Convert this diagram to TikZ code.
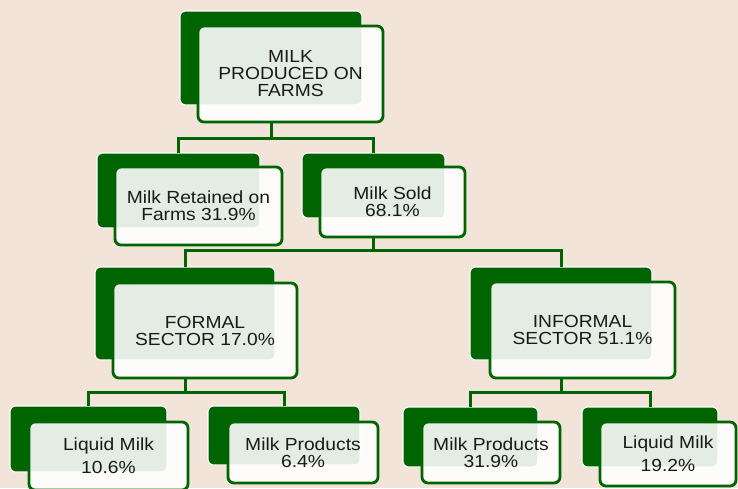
\documentclass[tikz,border=0pt]{standalone}
\usepackage{fontspec}
\setmainfont{Liberation Sans}[FakeStretch=1.1]
\definecolor{dkgreen}{HTML}{006400}
\definecolor{bgbeige}{HTML}{F2E4D8}
\definecolor{txtgray}{HTML}{1A1A1A}
\begin{document}
\begin{tikzpicture}[x=1pt,y=-1pt,
  backbox/.style={fill=dkgreen, draw=white, line width=1.2pt, rounded corners=5pt, inner sep=0pt, outer sep=0pt},
  frontbox/.style={fill=white, fill opacity=0.89, text opacity=1, draw=dkgreen, draw opacity=1, line width=2.8pt, rounded corners=6pt, inner sep=0pt, outer sep=0pt, align=center, text=txtgray, font=\fontsize{17.5}{17}\selectfont},
  conn/.style={draw=dkgreen, line width=3pt}]
\useasboundingbox (0,0) rectangle (738,488);
\fill[bgbeige] (0,0) rectangle (738,488);

% level 1
\node[backbox, minimum width=182pt, minimum height=94pt] (topB) at (271,58) {};
\node[frontbox, minimum width=185pt, minimum height=96pt] (topF) at (290.5,74) {MILK\\PRODUCED ON\\FARMS};

% level 2
\node[backbox, minimum width=163pt, minimum height=75pt] (retB) at (178.5,190.5) {};
\node[frontbox, minimum width=167pt, minimum height=78pt] (retF) at (198.5,206) {Milk Retained on\\Farms 31.9\%};
\node[backbox, minimum width=143pt, minimum height=65pt] (soldB) at (373.5,185.5) {};
\node[frontbox, minimum width=145pt, minimum height=70pt] (soldF) at (392.5,202) {Milk Sold\\68.1\%};

% level 3
\node[backbox, minimum width=180pt, minimum height=93pt] (formB) at (185,313.5) {};
\node[frontbox, minimum width=184pt, minimum height=95pt] (formF) at (205,330.5) {FORMAL\\SECTOR 17.0\%};
\node[backbox, minimum width=182pt, minimum height=93pt] (infB) at (561,313.5) {};
\node[frontbox, minimum width=185pt, minimum height=96pt] (infF) at (582.5,330) {INFORMAL\\SECTOR 51.1\%};

% level 4
\node[backbox, minimum width=157pt, minimum height=66pt] (lmaB) at (88.5,439) {};
\node[frontbox, minimum width=159pt, minimum height=68pt] (lmaF) at (108.5,456) {Liquid Milk\\[6pt]10.6\%};
\node[backbox, minimum width=152pt, minimum height=59pt] (mpaB) at (284,435.5) {};
\node[frontbox, minimum width=150pt, minimum height=61pt] (mpaF) at (303,452.5) {Milk Products\\6.4\%};
\node[backbox, minimum width=135pt, minimum height=60pt] (mpbB) at (470.5,437) {};
\node[frontbox, minimum width=138pt, minimum height=61pt] (mpbF) at (491,452.5) {Milk Products\\31.9\%};
\node[backbox, minimum width=136pt, minimum height=60pt] (lmbB) at (650,437) {};
\node[frontbox, minimum width=136pt, minimum height=64pt] (lmbF) at (668,454) {Liquid Milk\\[6pt]19.2\%};

% connectors
\draw[conn] (topF.south -| topB.center) -- ++(0,16) coordinate (j1);
\draw[conn] (retB.north) |- (j1) -| (soldB.north);
\draw[conn] (soldF.south -| soldB.center) -- ++(0,13) coordinate (j2);
\draw[conn] (formB.north) |- (j2) -| (infB.north);
\draw[conn] (formF.south -| formB.center) -- ++(0,14) coordinate (j3);
\draw[conn] (lmaB.north) |- (j3) -| (mpaB.north);
\draw[conn] (infF.south -| infB.center) -- ++(0,14) coordinate (j4);
\draw[conn] (mpbB.north) |- (j4) -| (lmbB.north);
\end{tikzpicture}
\end{document}
